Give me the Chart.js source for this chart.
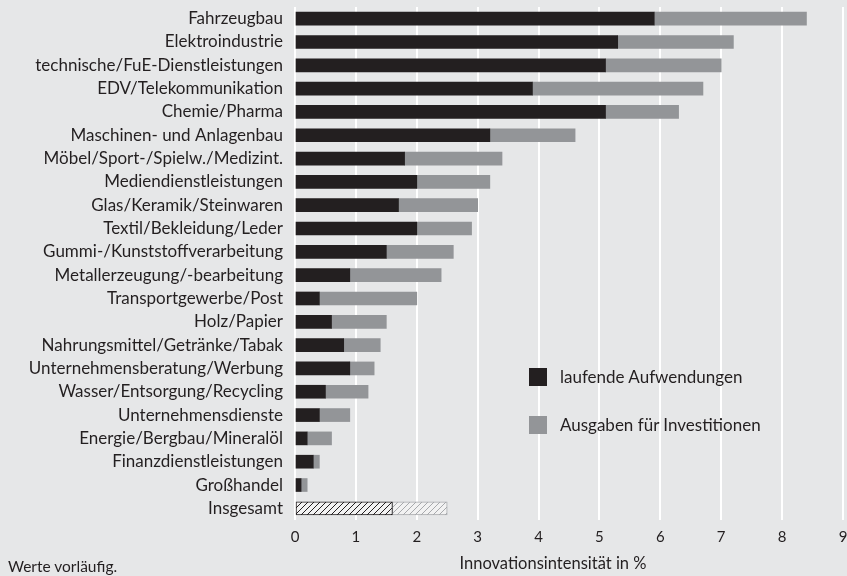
<!DOCTYPE html>
<html lang="de">
<head>
<meta charset="utf-8">
<title>Innovationsintensität</title>
<script src="https://cdn.jsdelivr.net/npm/chart.js@4.4.1/dist/chart.umd.min.js"></script>
<style>
  body { margin: 0; background: #e6e7e8; font-family: Lato, "Open Sans", sans-serif; color: #231f20; }
  #wrap { position: relative; width: 847px; height: 576px; }
  #legende { position: absolute; left: 529px; top: 368px; font-size: 17px; }
  #legende div { position: relative; height: 48px; line-height: 18px; padding-left: 31px; }
  #legende span { position: absolute; left: 0; top: 0; width: 18px; height: 18px; }
  #hinweis { position: absolute; left: 8px; top: 557px; font-size: 15.5px; }
  #achse { position: absolute; left: 453px; top: 553px; width: 200px; text-align: center; font-size: 16.5px; }
</style>
</head>
<body>
<div id="wrap">
  <canvas id="wykres" width="847" height="576"></canvas>
  <div id="legende"></div>
  <div id="achse"></div>
  <div id="hinweis">Werte vorläufig.</div>
</div>
<script>
const kategorien = [
  'Fahrzeugbau', 'Elektroindustrie', 'technische/FuE-Dienstleistungen', 'EDV/Telekommunikation',
  'Chemie/Pharma', 'Maschinen- und Anlagenbau', 'Möbel/Sport-/Spielw./Medizint.',
  'Mediendienstleistungen', 'Glas/Keramik/Steinwaren', 'Textil/Bekleidung/Leder',
  'Gummi-/Kunststoffverarbeitung', 'Metallerzeugung/-bearbeitung', 'Transportgewerbe/Post',
  'Holz/Papier', 'Nahrungsmittel/Getränke/Tabak', 'Unternehmensberatung/Werbung',
  'Wasser/Entsorgung/Recycling', 'Unternehmensdienste', 'Energie/Bergbau/Mineralöl',
  'Finanzdienstleistungen', 'Großhandel', 'Insgesamt'
];
const laufende = [5.9, 5.3, 5.1, 3.9, 5.1, 3.2, 1.8, 2.0, 1.7, 2.0, 1.5, 0.9, 0.4, 0.6, 0.8, 0.9, 0.5, 0.4, 0.2, 0.3, 0.1, 1.6];
const investitionen = [2.5, 1.9, 1.9, 2.8, 1.2, 1.4, 1.6, 1.2, 1.3, 0.9, 1.1, 1.5, 1.6, 0.9, 0.6, 0.4, 0.7, 0.5, 0.4, 0.1, 0.1, 0.9];
const serien = ['laufende Aufwendungen', 'Ausgaben für Investitionen'];
const farben = ['#231f20', '#939598'];
const achsenTitel = 'Innovationsintensität in %';

const letzter = kategorien.length - 1;

function schraffur(linie, fuellung) {
  const c = document.createElement('canvas');
  c.width = 6; c.height = 6;
  const g = c.getContext('2d');
  g.fillStyle = fuellung;
  g.fillRect(0, 0, 6, 6);
  g.strokeStyle = linie;
  g.lineWidth = 1;
  g.beginPath();
  g.moveTo(0, 6); g.lineTo(6, 0);
  g.moveTo(-1, 1); g.lineTo(1, -1);
  g.moveTo(5, 7); g.lineTo(7, 5);
  g.stroke();
  return g.createPattern(c, 'repeat');
}

const muster = [schraffur('#231f20', '#f2f2f2'), schraffur('#a7a9ac', '#f2f2f2')];

function dataset(i, werte) {
  return {
    label: serien[i],
    data: werte,
    backgroundColor: ctx => ctx.dataIndex === letzter ? muster[i] : farben[i],
    borderColor: ctx => ctx.dataIndex === letzter ? (i === 0 ? '#231f20' : '#a7a9ac') : farben[i],
    borderWidth: ctx => ctx.dataIndex === letzter ? 1 : 0,
    borderSkipped: false,
    barThickness: 13
  };
}

// Legende und Achsentitel als HTML
document.getElementById('legende').innerHTML = serien
  .map((s, i) => `<div><span style="background:${farben[i]}"></span>${s}</div>`)
  .join('');
document.getElementById('achse').textContent = achsenTitel;

Chart.defaults.font.family = 'Lato, "Open Sans", sans-serif';
Chart.defaults.color = '#231f20';

new Chart(document.getElementById('wykres').getContext('2d'), {
  type: 'bar',
  data: {
    labels: kategorien,
    datasets: [dataset(0, laufende), dataset(1, investitionen)]
  },
  options: {
    indexAxis: 'y',
    responsive: false,
    animation: false,
    layout: { padding: { top: 7, right: 4, bottom: 0, left: 0 } },
    plugins: {
      legend: { display: false },
      tooltip: { enabled: false }
    },
    scales: {
      x: {
        stacked: true,
        min: 0,
        max: 9,
        ticks: { stepSize: 1, font: { size: 15 }, padding: 8 },
        grid: { color: '#ffffff', lineWidth: 2, drawTicks: false },
        border: { display: false },
        afterFit: s => { s.paddingLeft = 0; s.paddingRight = 0; s.height = 56; }
      },
      y: {
        stacked: true,
        ticks: { font: { size: 17 }, padding: 4, autoSkip: false },
        grid: { display: false },
        border: { display: false },
        afterFit: s => { s.width = 295; s.paddingTop = 0; s.paddingBottom = 0; }
      }
    }
  }
});
</script>
</body>
</html>
